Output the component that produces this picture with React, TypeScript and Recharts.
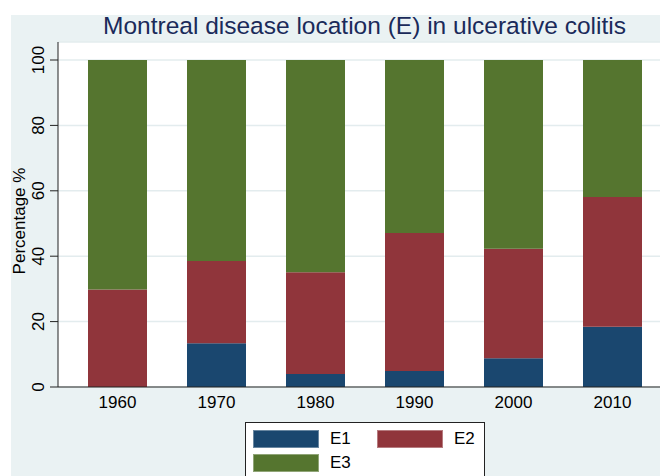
import { BarChart, Bar, XAxis, YAxis, CartesianGrid } from "recharts";

const years = ["1960", "1970", "1980", "1990", "2000", "2010"];
const e1 = [0, 13.4, 4.0, 4.9, 8.8, 18.4];
const e2 = [29.8, 25.1, 31.1, 42.2, 33.5, 39.7];
const e3 = [70.2, 61.5, 64.9, 52.9, 57.7, 41.9];
const yTicks = [0, 20, 40, 60, 80, 100];

const series = [
  { key: "E1", color: "#1a476f" },
  { key: "E2", color: "#90353b" },
  { key: "E3", color: "#55752f" },
];

const data = years.map((year, i) => ({ year, E1: e1[i], E2: e2[i], E3: e3[i] }));

const font = "'Liberation Sans', Arial, Helvetica, sans-serif";

function YTick({ x, y, payload }: any) {
  return (
    <text
      transform={`translate(${x - 6.5},${y}) rotate(-90)`}
      textAnchor="middle"
      fontSize={17}
      fontFamily={font}
      fill="#000"
    >
      {payload.value}
    </text>
  );
}

function XTick({ x, y, payload }: any) {
  return (
    <text x={x} y={y + 21} textAnchor="middle" fontSize={17} fontFamily={font} fill="#000">
      {payload.value}
    </text>
  );
}

export default function App() {
  return (
    <div
      style={{
        position: "absolute",
        left: 0,
        top: 0,
        width: 660,
        height: 476,
        overflow: "hidden",
        background: "#fff",
      }}
    >
      <div
        style={{ position: "absolute", left: 11, top: 15, width: 649, height: 461, background: "#eaf2f3" }}
      />
      <div style={{ position: "absolute", left: 0, top: 0 }}>
        <BarChart
          width={662}
          height={476}
          data={data}
          margin={{ top: 42, right: 0, bottom: 59, left: 0 }}
          barCategoryGap={20}
        >
          <CartesianGrid vertical={false} stroke="#e3ecee" strokeWidth={1.5} fill="#ffffff" />
          <XAxis
            dataKey="year"
            height={30}
            padding={{ left: 10, right: 0 }}
            tickLine={false}
            tickSize={0}
            tickMargin={0}
            axisLine={{ stroke: "#222" }}
            tick={<XTick />}
          />
          <YAxis
            width={58}
            domain={[0, 100]}
            ticks={yTicks}
            padding={{ top: 18, bottom: 0 }}
            tickSize={8}
            tickMargin={0}
            tickLine={{ stroke: "#222" }}
            axisLine={{ stroke: "#222" }}
            tick={<YTick />}
          />
          {series.map((s) => (
            <Bar key={s.key} dataKey={s.key} stackId="a" fill={s.color} isAnimationActive={false} />
          ))}
        </BarChart>
      </div>
      <svg
        width={660}
        height={476}
        style={{ position: "absolute", left: 0, top: 0, pointerEvents: "none" }}
      >
        <text x={364.5} y={34} textAnchor="middle" fontSize={24.5} fontFamily={font} fill="#1a2a5a">
          Montreal disease location (E) in ulcerative colitis
        </text>
        <text
          transform="translate(25,221) rotate(-90)"
          textAnchor="middle"
          fontSize={17}
          fontFamily={font}
          fill="#000"
        >
          Percentage %
        </text>
      </svg>
      <div
        style={{
          position: "absolute",
          left: 245,
          top: 422,
          width: 238,
          height: 70,
          background: "#fff",
          border: "1px solid #222",
          fontFamily: font,
          fontSize: 17,
          color: "#000",
        }}
      >
        {series.map((s, i) => {
          const col = i % 2;
          const row = Math.floor(i / 2);
          return (
            <div key={s.key}>
              <div
                style={{
                  position: "absolute",
                  left: 7 + col * 124,
                  top: 6.5 + row * 24.5,
                  width: 66,
                  height: 18,
                  background: s.color,
                  boxSizing: "border-box",
                  border: "1px solid rgba(255,255,255,0.35)",
                }}
              />
              <div
                style={{
                  position: "absolute",
                  left: 84 + col * 124,
                  top: 5.5 + row * 24.5,
                  lineHeight: "20px",
                }}
              >
                {s.key}
              </div>
            </div>
          );
        })}
      </div>
    </div>
  );
}
